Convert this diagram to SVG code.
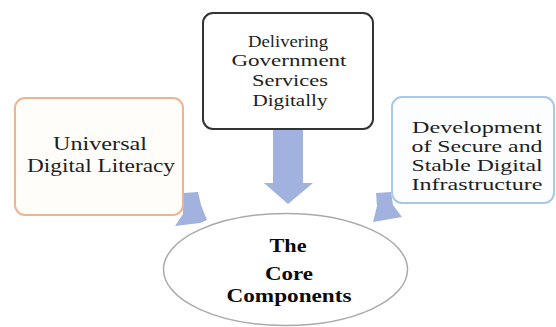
<svg xmlns="http://www.w3.org/2000/svg" width="556" height="327" viewBox="0 0 556 327">
<style>
text{font-family:'Liberation Serif','DejaVu Serif','Times New Roman',serif;font-size:18px;fill:#1e1e1e;text-anchor:middle}
.s{font-size:16.5px}
.b{font-weight:bold;fill:#0a0a0a}
.arrow{fill:#a2b2de}
</style>
<rect width="556" height="327" fill="#fff"/>
<g id="connectors">
<polygon class="arrow" points="273,129 303,129 303,183 313,183 288,204 264,183 273,183"/>
<polygon class="arrow" points="183,193 198,192 201,205 207,220 200,223 175,226 183,214"/>
<polygon class="arrow" points="376,193 391,192 393,205 402,217 373,222 377,206"/>
</g>
<g id="universal">
<rect x="15" y="98" width="168" height="117" rx="10" fill="#fffdf9" stroke="#efb48e" stroke-width="2"/>
<text x="100" y="150" textLength="94" lengthAdjust="spacingAndGlyphs">Universal</text>
<text x="101" y="172" textLength="148" lengthAdjust="spacingAndGlyphs">Digital Literacy</text>
</g>
<g id="delivering">
<rect x="203" y="13" width="170" height="116" rx="10" fill="#fff" stroke="#333" stroke-width="2"/>
<text class="s" x="288" y="47" textLength="80" lengthAdjust="spacingAndGlyphs">Delivering</text>
<text class="s" x="289" y="66" textLength="115" lengthAdjust="spacingAndGlyphs">Government</text>
<text class="s" x="290" y="86" textLength="76" lengthAdjust="spacingAndGlyphs">Services</text>
<text class="s" x="290" y="106" textLength="75" lengthAdjust="spacingAndGlyphs">Digitally</text>
</g>
<g id="development">
<rect x="392" y="97" width="162" height="106" rx="10" fill="#fbfdff" stroke="#a9c8e8" stroke-width="2"/>
<text class="s" x="477" y="133" textLength="130" lengthAdjust="spacingAndGlyphs">Development</text>
<text class="s" x="477" y="152" textLength="131" lengthAdjust="spacingAndGlyphs">of Secure and</text>
<text class="s" x="477" y="171" textLength="131" lengthAdjust="spacingAndGlyphs">Stable Digital</text>
<text class="s" x="477" y="190" textLength="131" lengthAdjust="spacingAndGlyphs">Infrastructure</text>
</g>
<g id="core">
<ellipse cx="285.5" cy="269.5" rx="122" ry="56" fill="#fff" stroke="#aaa" stroke-width="1.5"/>
<text class="b" x="288" y="252" textLength="37" lengthAdjust="spacingAndGlyphs">The</text>
<text class="b" x="289" y="280" textLength="48" lengthAdjust="spacingAndGlyphs">Core</text>
<text class="b" x="289" y="302" textLength="125" lengthAdjust="spacingAndGlyphs">Components</text>
</g>
</svg>
